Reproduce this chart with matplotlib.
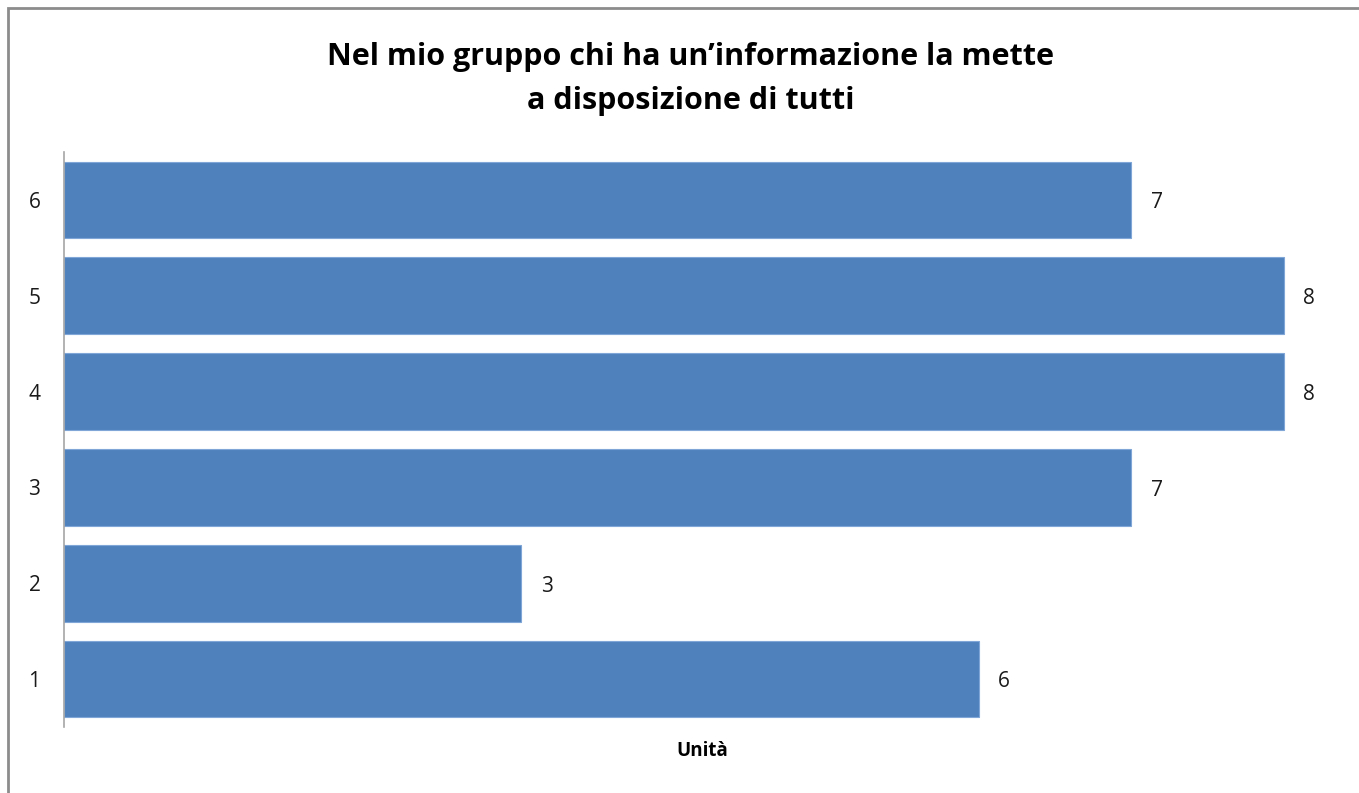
import matplotlib.pyplot as plt
from matplotlib.patches import Rectangle

categories = ["1", "2", "3", "4", "5", "6"]
values = [6, 3, 7, 8, 8, 7]

plt.rcParams['font.family'] = ['Open Sans', 'DejaVu Sans']

fig = plt.figure(figsize=(13.59, 7.93), dpi=100)
ax = fig.add_axes([0.0471, 0.0832, 0.9389, 0.7251])

# outer chart border (right and bottom edges fall outside the picture)
fig.patches.append(Rectangle((8 / 1359, -0.05), 1.1, (785 / 793) + 0.05,
                             transform=fig.transFigure, fill=False,
                             edgecolor='#8c8c8c', linewidth=2))

pos = range(1, len(categories) + 1)
ax.barh(pos, values, height=0.8, color='#4F81BD', edgecolor='#7FA6D6', linewidth=0.8)

for p, v in zip(pos, values):
    ax.annotate(str(v), (v, p), xytext=(14, -2), textcoords='offset points',
                ha='left', va='center', fontsize=15, color='#1a1a1a')

ax.set_xlim(0, 8.37)
ax.set_ylim(0.5, 6.5)
ax.set_yticks(list(pos))
ax.set_yticklabels(categories, fontsize=15, color='#1a1a1a')
ax.tick_params(axis='y', length=0, pad=17)
ax.set_xticks([])
for s in ['top', 'right', 'bottom']:
    ax.spines[s].set_visible(False)
ax.spines['left'].set_color('#a6a6a6')
ax.spines['left'].set_linewidth(1.2)

ax.set_xlabel("Unità", fontsize=13.5, fontweight='bold', labelpad=10)

fig.text(0.508, 0.90, "Nel mio gruppo chi ha un\u2019informazione la mette\na disposizione di tutti",
         ha='center', va='center', fontsize=22, fontweight='bold', linespacing=1.6)

fig.savefig("out.png", dpi=100)
